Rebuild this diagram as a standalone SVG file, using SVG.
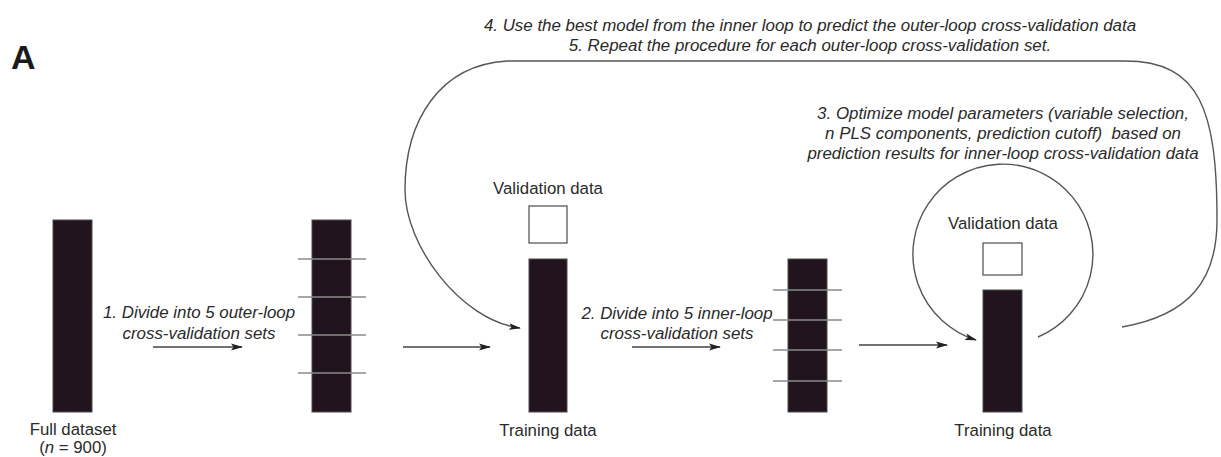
<svg xmlns="http://www.w3.org/2000/svg" width="1221" height="457" viewBox="0 0 1221 457">
  <style>
    text { font-family: "Liberation Sans", Arial, sans-serif; fill: #2a2a2a; }
    .lbl { font-size: 16.8px; text-anchor: middle; }
    .step { font-size: 16.9px; font-style: italic; text-anchor: middle; white-space: pre; }
    .panel { font-size: 34px; font-weight: bold; fill: #1a1a1a; }
    .bar { fill: #22141f; stroke: #4a4a4a; stroke-width: 1; }
    .box { fill: #ffffff; stroke: #5a5a5a; stroke-width: 1.3; }
    .split { stroke: #8a8a8a; stroke-width: 1.6; }
    .conn { fill: none; stroke: #444; stroke-width: 1.3; }
    .loop { fill: none; stroke: #555; stroke-width: 1.4; }
  </style>
  <defs>
    <marker id="dart" viewBox="0 0 12 8" refX="11" refY="4" markerWidth="12" markerHeight="8" markerUnits="userSpaceOnUse" orient="auto">
      <path d="M0,0.6 L12,4 L0,7.4 L2.5,4 Z" fill="#222"/>
    </marker>
  </defs>

  <rect width="1221" height="457" fill="#ffffff"/>

  <text class="panel" x="11" y="69">A</text>

  <!-- full dataset -->
  <g id="full-dataset">
    <rect class="bar" x="53" y="220" width="39" height="192"/>
    <text class="lbl" x="73" y="435">Full dataset</text>
    <text class="lbl" x="73" y="453">(<tspan font-style="italic">n</tspan> = 900)</text>
  </g>

  <!-- five outer-loop folds -->
  <g id="outer-folds">
    <rect class="bar" x="312" y="220" width="39" height="192"/>
    <line class="split" x1="298" y1="259" x2="366" y2="259"/>
    <line class="split" x1="298" y1="297" x2="366" y2="297"/>
    <line class="split" x1="298" y1="335" x2="366" y2="335"/>
    <line class="split" x1="298" y1="373" x2="366" y2="373"/>
  </g>

  <!-- outer-loop training / validation -->
  <g id="outer-train">
    <text class="lbl" x="548" y="194">Validation data</text>
    <rect class="box" x="529" y="206" width="38" height="37"/>
    <rect class="bar" x="529" y="259" width="38" height="153"/>
    <text class="lbl" x="548" y="436">Training data</text>
  </g>

  <!-- five inner-loop folds -->
  <g id="inner-folds">
    <rect class="bar" x="788" y="259" width="39" height="153"/>
    <line class="split" x1="773" y1="290" x2="842" y2="290"/>
    <line class="split" x1="773" y1="320" x2="842" y2="320"/>
    <line class="split" x1="773" y1="350" x2="842" y2="350"/>
    <line class="split" x1="773" y1="381" x2="842" y2="381"/>
  </g>

  <!-- inner-loop training / validation -->
  <g id="inner-train">
    <text class="lbl" x="1003" y="229">Validation data</text>
    <rect class="box" x="983" y="243" width="39" height="32"/>
    <rect class="bar" x="983" y="290" width="39" height="122"/>
    <text class="lbl" x="1003" y="436">Training data</text>
  </g>

  <!-- step labels -->
  <g id="step-labels">
    <text class="step" x="199" y="318">1. Divide into 5 outer-loop</text>
    <text class="step" x="199" y="339">cross-validation sets</text>
    <text class="step" x="677" y="319">2. Divide into 5 inner-loop</text>
    <text class="step" x="677" y="339">cross-validation sets</text>
    <text class="step" x="1003" y="119">3. Optimize model parameters (variable selection,</text>
    <text class="step" x="1003" y="139">n PLS components, prediction cutoff)  based on</text>
    <text class="step" x="1003" y="159">prediction results for inner-loop cross-validation data</text>
    <text class="step" x="810" y="31">4. Use the best model from the inner loop to predict the outer-loop cross-validation data</text>
    <text class="step" x="810" y="51">5. Repeat the procedure for each outer-loop cross-validation set.</text>
  </g>

  <!-- connectors -->
  <g id="connectors">
    <line class="conn" x1="153" y1="347" x2="242" y2="347" marker-end="url(#dart)"/>
    <line class="conn" x1="403" y1="347" x2="490" y2="347" marker-end="url(#dart)"/>
    <line class="conn" x1="632" y1="347" x2="720" y2="347" marker-end="url(#dart)"/>
    <line class="conn" x1="859" y1="345" x2="947" y2="345" marker-end="url(#dart)"/>
    <!-- inner optimisation loop -->
    <path class="loop" d="M1038,337 A90,90 0 1 0 976,340" marker-end="url(#dart)"/>
    <!-- outer loop back to the training data -->
    <path class="loop" d="M1122,327 C1190,315 1217,280 1217,220 C1217,110 1200,61 1125,61 L507,61 C440,65 405,120 405,190 C405,245 460,320 520,328" marker-end="url(#dart)"/>
  </g>
</svg>
